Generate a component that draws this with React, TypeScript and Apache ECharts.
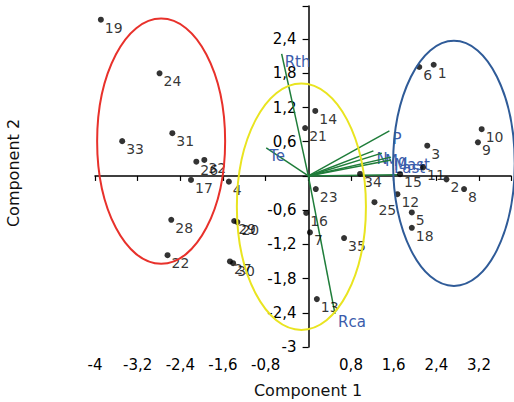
import React, { useEffect, useRef } from 'react';
import * as echarts from 'echarts';

// Observations (scores)
const pointIds = ['19','24','31','33','26','32','17','28','22','4','29','20','27','30','14','21','23','16','7','35','13','34','25','6','1','10','9','3','11','15','2','8','12','5','18'];
const comp1 = [-3.89,-2.79,-2.55,-3.49,-2.10,-1.95,-2.20,-2.57,-2.64,-1.49,-1.39,-1.33,-1.47,-1.41,0.13,-0.06,0.14,-0.04,0.03,0.67,0.16,0.97,1.24,2.08,2.35,3.25,3.18,2.23,2.15,1.72,2.59,2.92,1.67,1.94,1.94];
const comp2 = [2.74,1.80,0.75,0.61,0.25,0.28,-0.07,-0.77,-1.39,-0.10,-0.79,-0.81,-1.50,-1.53,1.14,0.84,-0.23,-0.65,-0.99,-1.09,-2.16,0.035,-0.46,1.91,1.95,0.82,0.59,0.53,0.15,0.03,-0.06,-0.23,-0.32,-0.64,-0.91];

// Variable loadings (vectors)
const varNames = ['Rth','Te','Rca','P','N','Mg','Mast','Last',''];
const varC1 = [-0.50,-0.79,0.50,1.52,1.22,1.38,1.55,1.55,1.68];
const varC2 = [2.14,0.49,-2.42,0.79,0.44,0.40,0.33,0.28,0.02];

// Group ellipses: centre x, centre y, radius x, radius y
const ellCx = [-2.76,-0.13,2.73];
const ellCy = [0.61,-0.54,0.22];
const ellRx = [1.20,1.21,1.14];
const ellRy = [2.15,2.16,2.15];
const ellColors = ['#e8312b','#e9e420','#2f5b98'];

const xMin = -4;
const xMax = 3.8;
const yMin = -3;
const yMax = 2.98;
const xTickStep = 0.8;
const yTickStep = 0.6;

const FONT = '"DejaVu Sans", "Liberation Sans", sans-serif';

const fmt = (step: number) => (v: number) => {
  if (Math.abs(v) < 1e-6) return '';
  const k = v / step;
  if (Math.abs(k - Math.round(k)) > 1e-6) return '';
  return String(Math.round(v * 10) / 10).replace('.', ',');
};

export default function App() {
  const ref = useRef<HTMLDivElement>(null);
  useEffect(() => {
    document.body.style.margin = '0';
    const gridLeft = 95;
    const gridRight = 2.5;
    const plotW = 514 - gridLeft - gridRight;
    const yAxisShift = -((0 - xMin) / (xMax - xMin)) * plotW;
    const chart = echarts.init(ref.current!, null, { renderer: 'svg' });
    chart.setOption({
      animation: false,
      backgroundColor: '#fff',
      grid: { left: gridLeft, right: gridRight, top: 6, bottom: 55 },
      xAxis: {
        type: 'value', min: xMin, max: xMax, interval: xTickStep,
        axisLine: { onZero: true, lineStyle: { color: '#000', width: 1.5 } },
        axisTick: { show: true, length: 5, lineStyle: { color: '#000', width: 1.2 } },
        axisLabel: { formatter: fmt(xTickStep), margin: 10, fontSize: 15, color: '#000', fontFamily: FONT, interval: 0 },
        splitLine: { show: false },
      },
      yAxis: {
        type: 'value', min: yMin, max: yMax, interval: yTickStep,
        position: 'left',
        offset: yAxisShift,
        axisLine: { onZero: false, lineStyle: { color: '#000', width: 1.5 } },
        axisTick: { show: true, length: 6, lineStyle: { color: '#000', width: 1.2 } },
        axisLabel: { formatter: fmt(yTickStep), margin: 12, fontSize: 15, color: '#000', fontFamily: FONT, interval: 0 },
        splitLine: { show: false },
      },
      graphic: [
        { type: 'text', x: 308, y: 390, style: { text: 'Component 1', align: 'center', verticalAlign: 'middle', fontSize: 16, fontFamily: FONT, fill: '#111' } },
        { type: 'text', x: 13, y: 173, rotation: Math.PI / 2, style: { text: 'Component 2', align: 'center', verticalAlign: 'middle', fontSize: 16, fontFamily: FONT, fill: '#111' } },
      ],
      series: [
        {
          type: 'custom',
          coordinateSystem: 'cartesian2d',
          z: 2,
          data: varC1.map((x, i) => [x, varC2[i]]),
          renderItem: (params: any, api: any) => {
            const o = api.coord([0, 0]);
            const e = api.coord([api.value(0), api.value(1)]);
            const name = varNames[params.dataIndex];
            return {
              type: 'group',
              children: [
                { type: 'line', shape: { x1: o[0], y1: o[1], x2: e[0], y2: e[1] }, style: { stroke: '#1f7d3a', lineWidth: 1.5 } },
                { type: 'text', x: e[0] + 3, y: e[1] + 8, style: { text: name, fill: '#3b5cab', fontSize: 15, fontFamily: FONT, align: 'left', verticalAlign: 'middle' } },
              ],
            };
          },
        },
        {
          type: 'scatter',
          z: 3,
          data: comp1.map((x, i) => [x, comp2[i]]),
          symbolSize: 6,
          itemStyle: { color: '#000' },
          label: {
            show: true,
            formatter: (p: any) => pointIds[p.dataIndex],
            position: [7, 11],
            align: 'left',
            verticalAlign: 'middle',
            fontSize: 14,
            fontFamily: FONT,
            color: '#000',
          },
        },
        {
          type: 'custom',
          coordinateSystem: 'cartesian2d',
          z: 4,
          silent: true,
          data: ellCx.map((x, i) => [x, ellCy[i], ellRx[i], ellRy[i]]),
          renderItem: (params: any, api: any) => {
            const c = api.coord([api.value(0), api.value(1)]);
            const s = api.size([api.value(2), api.value(3)]);
            return {
              type: 'ellipse',
              shape: { cx: c[0], cy: c[1], rx: s[0], ry: s[1] },
              style: { fill: 'none', stroke: ellColors[params.dataIndex], lineWidth: 2 },
            };
          },
        },
      ],
    });
    return () => chart.dispose();
  }, []);
  return <div ref={ref} style={{ width: 514, height: 402 }} />;
}
